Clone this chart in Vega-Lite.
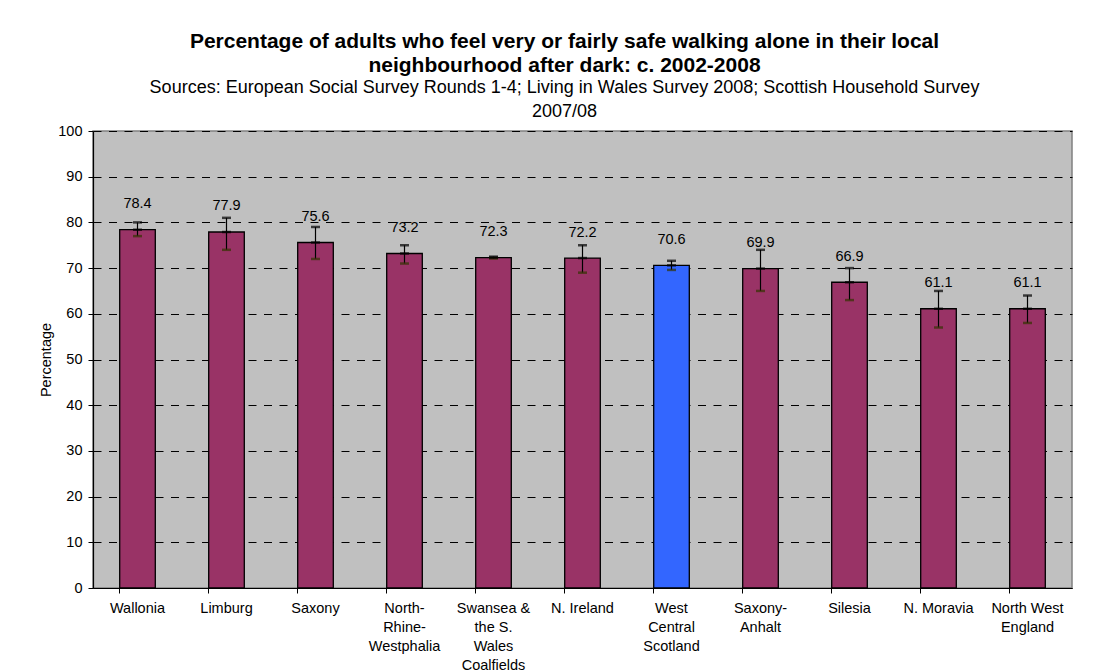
{
  "$schema": "https://vega.github.io/schema/vega-lite/v6.json",
  "autosize": "none",
  "width": 979,
  "height": 457,
  "padding": {"left": 93, "top": 131, "right": 24, "bottom": 83},
  "background": "white",
  "title": {
    "text": ["Percentage of adults who feel very or fairly safe walking alone in their local", "neighbourhood after dark: c. 2002-2008"],
    "subtitle": ["Sources: European Social Survey Rounds 1-4; Living in Wales Survey 2008; Scottish Household Survey", "2007/08"],
    "anchor": "middle",
    "dx": -18,
    "offset": 2,
    "font": "Liberation Sans",
    "fontSize": 21,
    "fontWeight": "bold",
    "color": "black",
    "lineHeight": 24.5,
    "subtitleFont": "Liberation Sans",
    "subtitleFontSize": 18,
    "subtitleColor": "black",
    "subtitleLineHeight": 24,
    "subtitlePadding": 3
  },
  "data": {
    "values": [
      {"region": "Wallonia", "value": 78.4, "lo": 77, "hi": 80},
      {"region": "Limburg", "value": 77.9, "lo": 74, "hi": 81},
      {"region": "Saxony", "value": 75.6, "lo": 72, "hi": 79},
      {"region": "North-Rhine-Westphalia", "value": 73.2, "lo": 71, "hi": 75},
      {"region": "Swansea & the S. Wales Coalfields", "value": 72.3, "lo": 72.1, "hi": 72.5},
      {"region": "N. Ireland", "value": 72.2, "lo": 69, "hi": 75},
      {"region": "West Central Scotland", "value": 70.6, "lo": 69.6, "hi": 71.6},
      {"region": "Saxony-Anhalt", "value": 69.9, "lo": 65, "hi": 74},
      {"region": "Silesia", "value": 66.9, "lo": 63, "hi": 70},
      {"region": "N. Moravia", "value": 61.1, "lo": 57, "hi": 65},
      {"region": "North West England", "value": 61.1, "lo": 58, "hi": 64}
    ]
  },
  "encoding": {
    "x": {
      "field": "region",
      "type": "nominal",
      "sort": null,
      "title": null,
      "scale": {"paddingInner": 0.6, "paddingOuter": 0.3},
      "axis": {
        "labelAngle": 0,
        "bandPosition": 0,
        "labelExpr": "datum.value == 'North-Rhine-Westphalia' ? ['North-','Rhine-','Westphalia'] : datum.value == 'Swansea & the S. Wales Coalfields' ? ['Swansea &','the S.','Wales','Coalfields'] : datum.value == 'West Central Scotland' ? ['West','Central','Scotland'] : datum.value == 'Saxony-Anhalt' ? ['Saxony-','Anhalt'] : datum.value == 'North West England' ? ['North West','England'] : datum.value",
        "labelFont": "Liberation Sans",
        "labelFontSize": 14.5,
        "labelColor": "black",
        "labelLineHeight": 19,
        "labelBaseline": "top",
        "labelPadding": 8,
        "labelOverlap": false,
        "labelLimit": 0,
        "domainColor": "black",
        "domainWidth": 1.2,
        "tickColor": "black",
        "tickSize": 5,
        "grid": false
      }
    }
  },
  "config": {
    "view": {"fill": "#C0C0C0", "stroke": "#808080", "strokeWidth": 1.5},
    "axisY": {
      "labelFont": "Liberation Sans",
      "labelFontSize": 14.5,
      "labelColor": "black",
      "labelPadding": 6,
      "titleFont": "Liberation Sans",
      "titleFontSize": 14.5,
      "titleFontWeight": "normal",
      "titleColor": "black",
      "titlePadding": 4,
      "domainColor": "black",
      "domainWidth": 1.2,
      "tickColor": "black",
      "tickSize": 5,
      "grid": true,
      "gridColor": "black",
      "gridDash": [8, 7.5],
      "gridWidth": 1,
      "gridOpacity": 1,
      "values": [0, 10, 20, 30, 40, 50, 60, 70, 80, 90, 100]
    }
  },
  "layer": [
    {
      "mark": {"type": "bar", "stroke": "black", "strokeWidth": 1.3},
      "encoding": {
        "y": {"field": "value", "type": "quantitative", "title": "Percentage", "scale": {"domain": [0, 100], "nice": false}},
        "color": {
          "condition": {"test": "datum.region === 'West Central Scotland'", "value": "#3366FF"},
          "value": "#993366"
        }
      }
    },
    {
      "mark": {"type": "rule", "color": "black", "strokeWidth": 1.2},
      "encoding": {
        "y": {"field": "lo", "type": "quantitative", "title": "Percentage"},
        "y2": {"field": "hi"}
      }
    },
    {
      "mark": {"type": "tick", "color": "black", "size": 9, "thickness": 2.5},
      "encoding": {
        "y": {"field": "hi", "type": "quantitative", "title": "Percentage"}
      }
    },
    {
      "mark": {"type": "tick", "color": "#333300", "size": 9, "thickness": 2.5},
      "encoding": {
        "y": {"field": "lo", "type": "quantitative", "title": "Percentage"}
      }
    },
    {
      "mark": {"type": "tick", "color": "black", "size": 9, "thickness": 2.5},
      "encoding": {
        "y": {"field": "value", "type": "quantitative", "title": "Percentage"}
      }
    },
    {
      "mark": {"type": "text", "font": "Liberation Sans", "fontSize": 14.5, "color": "black", "baseline": "middle", "dy": -25.5},
      "encoding": {
        "y": {"field": "value", "type": "quantitative", "title": "Percentage"},
        "text": {"field": "value", "type": "quantitative", "format": ".1f"}
      }
    }
  ]
}
